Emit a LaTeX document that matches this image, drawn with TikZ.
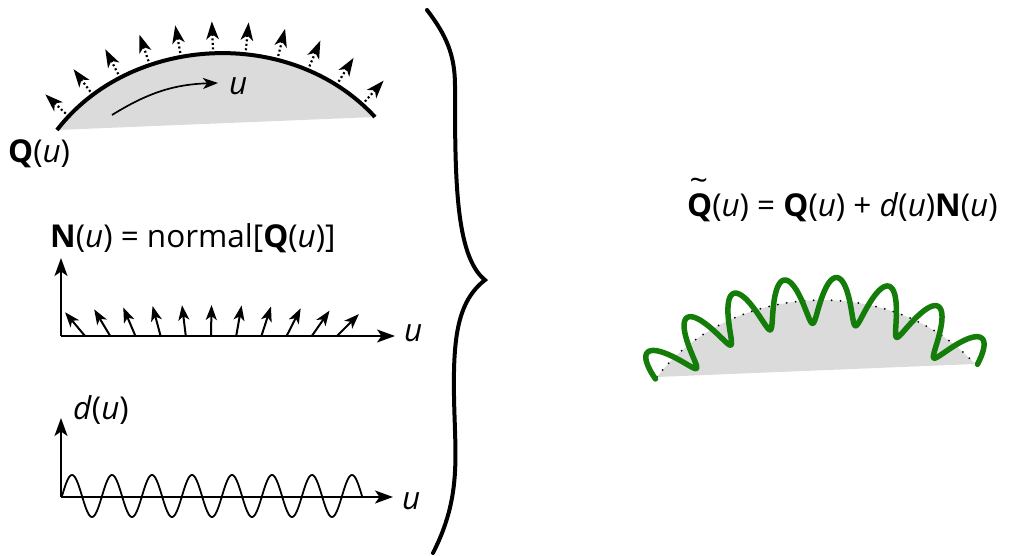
\documentclass[tikz,border=0pt]{standalone}
\usepackage{fontspec}
\setmainfont{Open Sans}
\usetikzlibrary{arrows.meta, decorations.markings}
\definecolor{wavegreen}{RGB}{20,125,10}
\begin{document}
\begin{tikzpicture}[x=1pt, y=1pt, every node/.style={inner sep=0pt, font=\fontsize{31.5}{37}\selectfont},
	shapefill/.style={fill=black!14},
	curve/.style={line width=4pt},
	axis/.style={line width=2pt, -{Stealth[length=18pt, width=13pt, inset=4.5pt]}},
	normalarrow/.style={line width=2pt, -{Stealth[length=15pt, width=11pt, inset=4pt]}},
	dottedarrow/.style={line width=2.2pt, dash pattern=on 2pt off 2.5pt, -{Stealth[length=18pt, width=12.5pt, inset=5pt]}},
	sinewave/.style={line width=1.8pt},
	brace/.style={line width=4pt, line cap=round},
	wave/.style={line width=5.5pt, wavegreen, line cap=round, line join=round},
	declare function={
		qx(\t)=(1-\t)^3*657+3*(1-\t)^2*\t*730+3*(1-\t)*\t^2*890+\t^3*975;
		qy(\t)=(1-\t)^3*179+3*(1-\t)^2*\t*274+3*(1-\t)*\t^2*284+\t^3*192;
		qtx(\t)=3*(1-\t)^2*0.73+6*(1-\t)*\t*1.6+3*\t^2*0.85;
		qty(\t)=3*(1-\t)^2*0.95+6*(1-\t)*\t*0.1-3*\t^2*0.92;
		dd(\t)=23*sin(2700*\t);
		ee(\t)=-2.5*cos(2700*\t);
	}]
	\useasboundingbox (0,0) rectangle (1012,556);
	\fill[shapefill] (57,426) .. controls (130,521) and (290,531) .. (375,439) -- cycle;
	\draw[curve, postaction={decorate, decoration={markings,
		mark=between positions 0.05 and 0.96 step 0.09 with {\draw[dottedarrow] (0,4) -- (0,32);}}}]
		(57,426) .. controls (130,521) and (290,531) .. (375,439);
	\draw[normalarrow, line width=1.7pt] (112,441) to[bend left=15] (218,473);
	\node[anchor=base west] (ulabel) at (229,461) {\textit{u}};
	\node[anchor=base west] (Qlabel) at (8,393) {\textbf{Q}(\textit{u})};
	\node[anchor=base west] (Nlabel) at (50,308) {\textbf{N}(\textit{u}) = normal[\textbf{Q}(\textit{u})]};
	\coordinate (No) at (61,220);
	\draw[axis] (No) -- (61,298);
	\draw[axis] (No) -- (395,220);
	\node[anchor=base west] (uN) at (404,214) {\textit{u}};
	\foreach \a [count=\i from 0] in {130,121,113,105,97,89,80,72,63,55,45}
		\draw[normalarrow] (85+25.2*\i,220) -- ++(\a:31);
	\node[anchor=base west] (dlabel) at (73,136) {\textit{d}(\textit{u})};
	\coordinate (Do) at (61,59);
	\draw[axis] (Do) -- (61,138);
	\draw[axis] (Do) -- (393,59);
	\node[anchor=base west] (ud) at (402,46) {\textit{u}};
	\draw[sinewave] plot[domain=62:362, samples=300] (\x, {60+21*sin(9*(\x-62))});
	\draw[brace] (427,546) .. controls (447,520) and (455,500) .. (455,470)
		.. controls (455,380) and (455,300) .. (485,276)
		.. controls (458,255) and (453,220) .. (454,160)
		.. controls (455,100) and (462,60) .. (433,3);
	\node[anchor=base west] (eq) at (687,339) {\makebox[0pt][l]{\hspace{0.08em}\raisebox{0.8em}{\fontsize{32}{32}\selectfont\textasciitilde}}\textbf{Q}(\textit{u}) = \textbf{Q}(\textit{u}) + \textit{d}(\textit{u})\textbf{N}(\textit{u})};
	\fill[shapefill] (657,179) .. controls (730,274) and (890,284) .. (975,192) -- cycle;
	\draw[line width=2pt, dash pattern=on 0pt off 9pt, line cap=round] (657,179) .. controls (730,274) and (890,284) .. (975,192);
	\draw[wave] plot[domain=0:1, samples=400, variable=\t]
		({qx(\t)+(ee(\t)*qtx(\t)-dd(\t)*qty(\t))/veclen(qtx(\t),qty(\t))},
		 {qy(\t)+(ee(\t)*qty(\t)+dd(\t)*qtx(\t))/veclen(qtx(\t),qty(\t))});
\end{tikzpicture}
\end{document}
